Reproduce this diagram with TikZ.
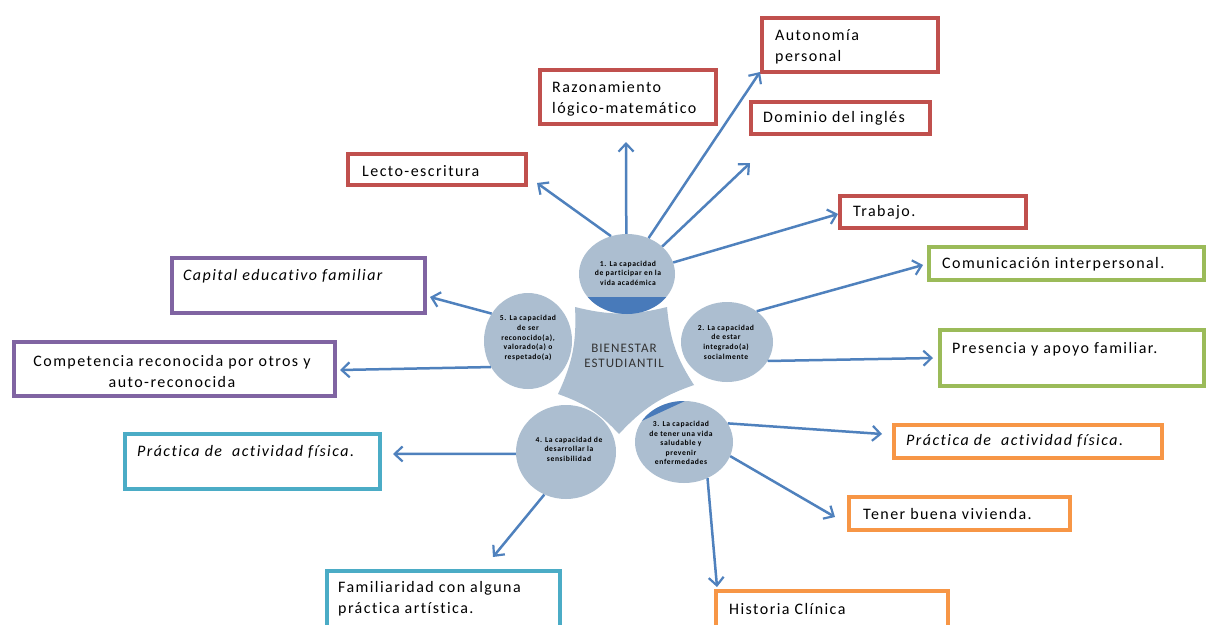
\documentclass[tikz,border=0pt]{standalone}
\usepackage{fontspec}
\setmainfont{Carlito}
\newfontfamily\spacedfont[LetterSpace=9,Ligatures=NoCommon]{Carlito}
\newfontfamily\bubfont[LetterSpace=8,Ligatures=NoCommon]{Carlito}
\usetikzlibrary{shapes.geometric,arrows.meta}
\definecolor{cred}{RGB}{192,80,77}
\definecolor{cgreen}{RGB}{155,187,89}
\definecolor{cpurple}{RGB}{128,100,162}
\definecolor{corange}{RGB}{247,150,70}
\definecolor{cteal}{RGB}{75,172,198}
\definecolor{carrow}{RGB}{79,129,189}
\definecolor{cfill}{RGB}{172,190,208}
\definecolor{ccap}{RGB}{72,122,186}
\begin{document}
\begin{tikzpicture}[x=1pt,y=-1pt,
 box/.style={draw, line width=4pt, rectangle, inner sep=0pt},
 boxtext/.style={font=\spacedfont\fontsize{16}{21}\selectfont, inner sep=0pt, anchor=west, align=left},
 conn/.style={draw=carrow, line width=2.5pt, -{Straight Barb[length=8pt,width=15pt,line width=2.2pt]}},
 bubble/.style={ellipse, fill=cfill, inner sep=0pt},
 bubtext/.style={font=\bubfont\fontsize{7.6}{9.6}\selectfont\bfseries, align=center, inner sep=0pt},
 centertext/.style={font=\bubfont\fontsize{13}{15.5}\selectfont, align=center, inner sep=0pt, text=black!80}
]
\useasboundingbox (0,0) rectangle (1209,624);
\fill[white] (0,0) rectangle (1209,624);

% ---- boxes ----
\node[box, draw=cred, minimum width=176, minimum height=54] (auto) at (850,45) {};
\node[boxtext] (tauto) at (775,47) {Autonomía\\personal};
\node[box, draw=cred, minimum width=176, minimum height=54] (razon) at (628,97) {};
\node[boxtext] (trazon) at (552,99) {Razonamiento\\lógico-matemático};
\node[box, draw=cred, minimum width=179, minimum height=32] (domin) at (840.5,118) {};
\node[boxtext] (tdomin) at (763,118) {Dominio del inglés};
\node[box, draw=cred, minimum width=178, minimum height=31] (lecto) at (437,169.5) {};
\node[boxtext] (tlecto) at (362,171) {Lecto-escritura};
\node[box, draw=cred, minimum width=186, minimum height=32] (trab) at (933,212) {};
\node[boxtext] (ttrab) at (853,212) {Trabajo.};
\node[box, draw=cgreen, minimum width=275, minimum height=33] (comun) at (1066.5,263.5) {};
\node[boxtext] (tcomun) at (942,264) {Comunicación interpersonal.};
\node[box, draw=cgreen, minimum width=264, minimum height=56] (presen) at (1072,358) {};
\node[boxtext] (tpresen) at (952,349) {Presencia y apoyo familiar.};
\node[box, draw=cpurple, minimum width=253, minimum height=55] (capital) at (298.5,285.5) {};
\node[boxtext] (tcapital) at (183,276) {\itshape Capital educativo familiar};
\node[box, draw=cpurple, minimum width=321, minimum height=54] (compet) at (174.5,369) {};
\node[boxtext, anchor=center, align=center] (tcompet) at (172,371) {Competencia reconocida por otros y\\auto-reconocida};
\node[box, draw=corange, minimum width=268, minimum height=33] (prR) at (1028,441.5) {};
\node[boxtext] (tprR) at (906,441) {\itshape Práctica de~ actividad física.};
\node[box, draw=corange, minimum width=221, minimum height=33] (viv) at (959.5,513.5) {};
\node[boxtext] (tviv) at (863,514) {Tener buena vivienda.};
\node[box, draw=corange, minimum width=232, minimum height=40] (hist) at (832,611) {};
\node[boxtext] (thist) at (729,609) {Historia Clínica};
\node[box, draw=cteal, minimum width=255, minimum height=55] (prL) at (252.5,461.5) {};
\node[boxtext] (tprL) at (137,452) {\itshape Práctica de~ actividad física.};
\node[box, draw=cteal, minimum width=233, minimum height=60] (fam) at (443.5,601) {};
\node[boxtext] (tfam) at (338,599) {Familiaridad con alguna\\práctica artística.};

% ---- centre shape ----
\fill[cfill] (575,307) to[bend right=14] (667,307) to[bend right=14] (694,385)
  to[bend right=14] (619,434) to[bend right=14] (558,394) to[bend right=14] (575,307) -- cycle;
\node[centertext] (centro) at (624,356) {BIENESTAR\\ESTUDIANTIL};

% ---- bubbles ----
\node[bubble, minimum width=96, minimum height=80] (c1) at (627,274) {};
\node[bubble, minimum width=92, minimum height=80] (c2) at (727,342) {};
\node[bubble, minimum width=98, minimum height=82] (c3) at (684,442) {};
\node[bubble, minimum width=100, minimum height=94] (c4) at (566,452) {};
\node[bubble, minimum width=88, minimum height=96] (c5) at (528,341) {};

\begin{scope}
 \clip (627,274) ellipse [x radius=48, y radius=40];
 \fill[ccap] (570,297) rectangle (690,320);
\end{scope}
\begin{scope}
 \clip (684,442) ellipse [x radius=49, y radius=41];
 \fill[ccap] (581,449) -- (737,377) -- (581,377) -- cycle;
\end{scope}

\node[bubtext] (tc1) at (628,273) {1. La capacidad\\de participar en la\\vida académica};
\node[bubtext] (tc2) at (726,342) {2. La capacidad\\de estar\\integrado(a)\\socialmente};
\node[bubtext] (tc3) at (681,443) {3. La capacidad\\de tener una vida\\saludable y\\prevenir\\enfermedades};
\node[bubtext] (tc4) at (569,449) {4. La capacidad de\\desarrollar la\\sensibilidad};
\node[bubtext] (tc5) at (528,338) {5. La capacidad\\de ser\\reconocido(a),\\valorado(a) o\\respetado(a)};

% ---- arrow tips ----
\coordinate (pLecto) at (537,183);
\coordinate (pRazon) at (626,142);
\coordinate (pAuto) at (760,72);
\coordinate (pFree) at (750,163);
\coordinate (pTrab) at (838,214);
\coordinate (pComun) at (923,265);
\coordinate (pPresen) at (933,358);
\coordinate (pPrR) at (882,434);
\coordinate (pViv) at (835,517);
\coordinate (pHist) at (717,587);
\coordinate (pPrL) at (393,454);
\coordinate (pFam) at (493,557);
\coordinate (pCapital) at (430,297);
\coordinate (pCompet) at (340,370);

% ---- connectors ----
\draw[conn] (c1.113) -- (pLecto);
\draw[conn] (c1.91) -- (pRazon);
\draw[conn] (c1.59) -- (pAuto);
\draw[conn] (c1.38) -- (pFree);
\draw[conn] (c1.14) -- (pTrab);
\draw[conn] (c2.46) -- (pComun);
\draw[conn] (c2.335) -- (pPresen);
\draw[conn] (c3.23) -- (pPrR);
\draw[conn] (c3.343) -- (pViv);
\draw[conn] (c3.303) -- (pHist);
\draw[conn] (c4.182) -- (pPrL);
\draw[conn] (c4.243) -- (pFam);
\draw[conn] (c5.143) -- (pCapital);
\draw[conn] (c5.215) -- (pCompet);
\end{tikzpicture}
\end{document}
